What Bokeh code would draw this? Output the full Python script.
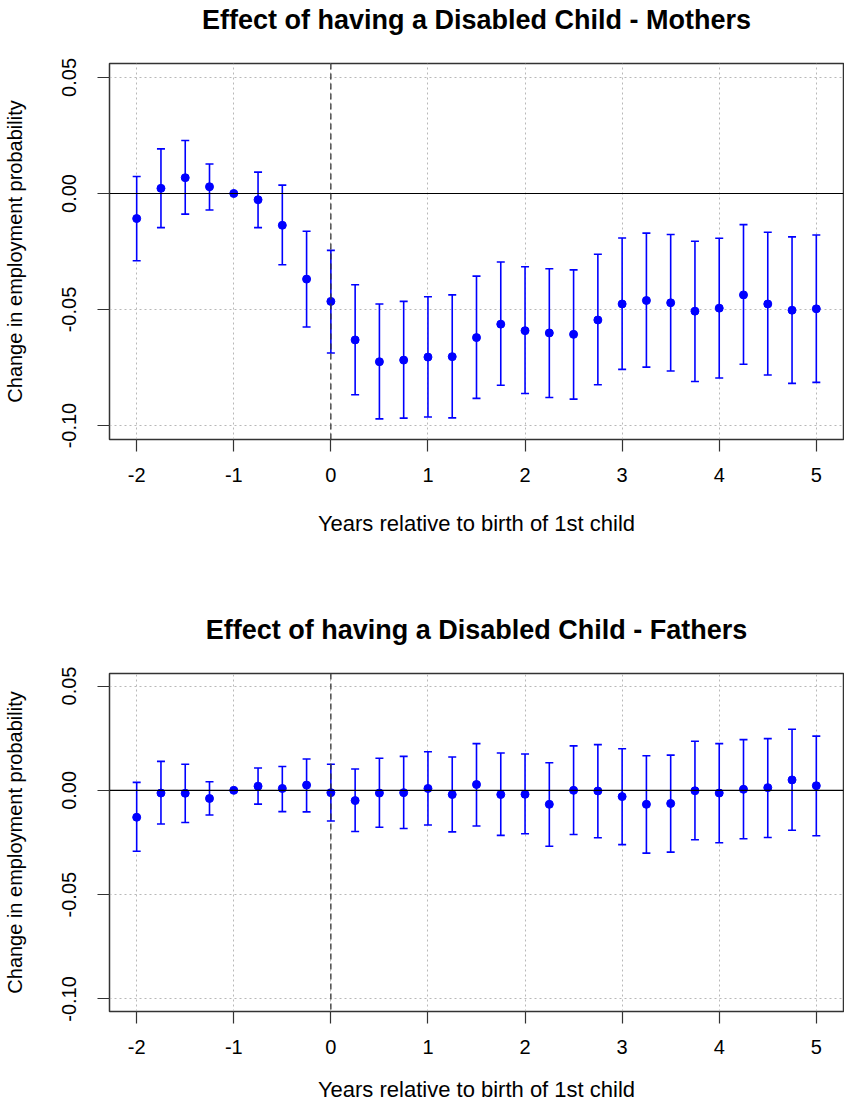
from bokeh.plotting import figure
from bokeh.models import Range1d, FixedTicker, Whisker, TeeHead, Span, ColumnDataSource, Title
from bokeh.layouts import column
from bokeh.embed import file_html
from bokeh.resources import INLINE

years = [-2, -1.75, -1.5, -1.25, -1, -0.75, -0.5, -0.25, 0, 0.25, 0.5, 0.75, 1, 1.25, 1.5,
         1.75, 2, 2.25, 2.5, 2.75, 3, 3.25, 3.5, 3.75, 4, 4.25, 4.5, 4.75, 5]

mothers_est = [-0.0108, 0.0022, 0.0068, 0.0029, 0.0, -0.0027, -0.0137, -0.0369, -0.0465, -0.0631,
               -0.0725, -0.0718, -0.0705, -0.0703, -0.0621, -0.0563, -0.0591, -0.0601, -0.0607,
               -0.0545, -0.0476, -0.0461, -0.0471, -0.0507, -0.0494, -0.0437, -0.0476, -0.0503, -0.0497]
mothers_hi = [0.0073, 0.0192, 0.0228, 0.0127, 0.0, 0.0092, 0.0036, -0.0163, -0.0245, -0.0393,
              -0.0476, -0.0465, -0.0445, -0.0437, -0.0356, -0.0295, -0.0316, -0.0324, -0.0329,
              -0.0262, -0.0192, -0.0171, -0.0177, -0.0206, -0.0193, -0.0134, -0.0167, -0.0187, -0.0179]
mothers_lo = [-0.0290, -0.0147, -0.0089, -0.0071, 0.0, -0.0147, -0.0307, -0.0575, -0.0687, -0.0867,
              -0.0971, -0.0968, -0.0963, -0.0967, -0.0883, -0.0826, -0.0862, -0.0879, -0.0886,
              -0.0824, -0.0758, -0.0748, -0.0765, -0.0810, -0.0795, -0.0736, -0.0782, -0.0818, -0.0814]

fathers_est = [-0.0129, -0.0013, -0.0014, -0.0039, 0.0, 0.0020, 0.0009, 0.0025, -0.0011, -0.0049,
               -0.0013, -0.0011, 0.0009, -0.0020, 0.0028, -0.0020, -0.0019, -0.0067, 0.0000,
               -0.0003, -0.0030, -0.0067, -0.0063, -0.0002, -0.0013, 0.0005, 0.0013, 0.0050, 0.0022]
fathers_hi = [0.0038, 0.0139, 0.0125, 0.0041, 0.0, 0.0107, 0.0114, 0.0150, 0.0125, 0.0102,
              0.0154, 0.0163, 0.0185, 0.0160, 0.0224, 0.0179, 0.0174, 0.0132, 0.0213,
              0.0219, 0.0199, 0.0166, 0.0169, 0.0235, 0.0224, 0.0243, 0.0248, 0.0293, 0.0260]
fathers_lo = [-0.0292, -0.0161, -0.0154, -0.0118, 0.0, -0.0066, -0.0102, -0.0103, -0.0147, -0.0197,
              -0.0177, -0.0183, -0.0166, -0.0199, -0.0171, -0.0216, -0.0208, -0.0268, -0.0212,
              -0.0227, -0.0260, -0.0301, -0.0296, -0.0237, -0.0251, -0.0232, -0.0226, -0.0191, -0.0218]

x_ticks = [-2, -1, 0, 1, 2, 3, 4, 5]
x_tick_labels = ["-2", "-1", "0", "1", "2", "3", "4", "5"]
y_ticks = [-0.10, -0.05, 0.0, 0.05]
y_tick_labels = ["-0.10", "-0.05", "0.00", "0.05"]

FONT = "Liberation Sans"


def make(title, est, lo, hi, height, btop, bbot, xlab_standoff, spacer):
    p = figure(width=844, height=height, x_range=Range1d(-2.28, 5.28), y_range=Range1d(-0.106, 0.056),
               output_backend="svg", toolbar_location=None, title=None,
               min_border_left=108, min_border_right=1, min_border_top=btop, min_border_bottom=bbot)
    # spacer panel between frame and title, then the title itself
    p.add_layout(Title(text=" ", text_font_size="1px", standoff=spacer), "above")
    p.add_layout(Title(text=title, align="center", text_font=FONT, text_font_size="27px",
                       text_font_style="bold", text_color="black", standoff=0), "above")
    p.outline_line_color = "#333333"
    p.outline_line_width = 1.5
    p.background_fill_color = "white"
    p.border_fill_color = "white"

    for ax in (p.xaxis, p.yaxis):
        ax.axis_line_color = None
        ax.major_tick_line_color = "#333333"
        ax.major_tick_line_width = 1.2
        ax.major_tick_out = 12
        ax.major_tick_in = 0
        ax.minor_tick_line_color = None
        ax.major_label_text_font = FONT
        ax.major_label_text_font_size = "20px"
        ax.major_label_text_color = "black"
        ax.axis_label_text_font = FONT
        ax.axis_label_text_font_style = "normal"
        ax.axis_label_text_color = "black"

    p.xaxis.ticker = FixedTicker(ticks=x_ticks)
    p.xaxis.major_label_overrides = dict(zip(x_ticks, x_tick_labels))
    p.xaxis.axis_label = "Years relative to birth of 1st child"
    p.xaxis.axis_label_text_font_size = "22px"
    p.xaxis.major_label_standoff = 16
    p.xaxis.axis_label_standoff = xlab_standoff

    p.yaxis.ticker = FixedTicker(ticks=y_ticks)
    p.yaxis.major_label_overrides = dict(zip(y_ticks, y_tick_labels))
    p.yaxis.major_label_orientation = "vertical"
    p.yaxis.axis_label = "Change in employment probability"
    p.yaxis.axis_label_text_font_size = "20px"
    p.yaxis.major_label_standoff = 21
    p.yaxis.axis_label_standoff = 34

    for g in (p.xgrid, p.ygrid):
        g.grid_line_color = "#b8b8b8"
        g.grid_line_dash = "2 3"
        g.grid_line_width = 1

    p.add_layout(Span(location=0, dimension="width", line_color="black", line_width=1.2))
    p.add_layout(Span(location=0, dimension="height", line_color="#333333", line_width=1.3, line_dash="6 4"))

    src = ColumnDataSource(dict(x=years, est=est, lo=lo, hi=hi))
    w = Whisker(source=src, base="x", upper="hi", lower="lo", line_color="#0000ff", line_width=1.6,
                upper_head=TeeHead(size=8, line_color="#0000ff", line_width=1.6),
                lower_head=TeeHead(size=8, line_color="#0000ff", line_width=1.6))
    p.add_layout(w)
    p.scatter("x", "est", source=src, size=8, color="#0000ff")
    return p


p1 = make("Effect of having a Disabled Child - Mothers", mothers_est, mothers_lo, mothers_hi,
          557, 63, 118, 26, 26)
p2 = make("Effect of having a Disabled Child - Fathers", fathers_est, fathers_lo, fathers_hi,
          547, 116, 87, 20, 26)

layout = column(p1, p2, spacing=0)
open("out.html", "w").write(file_html(layout, INLINE))
